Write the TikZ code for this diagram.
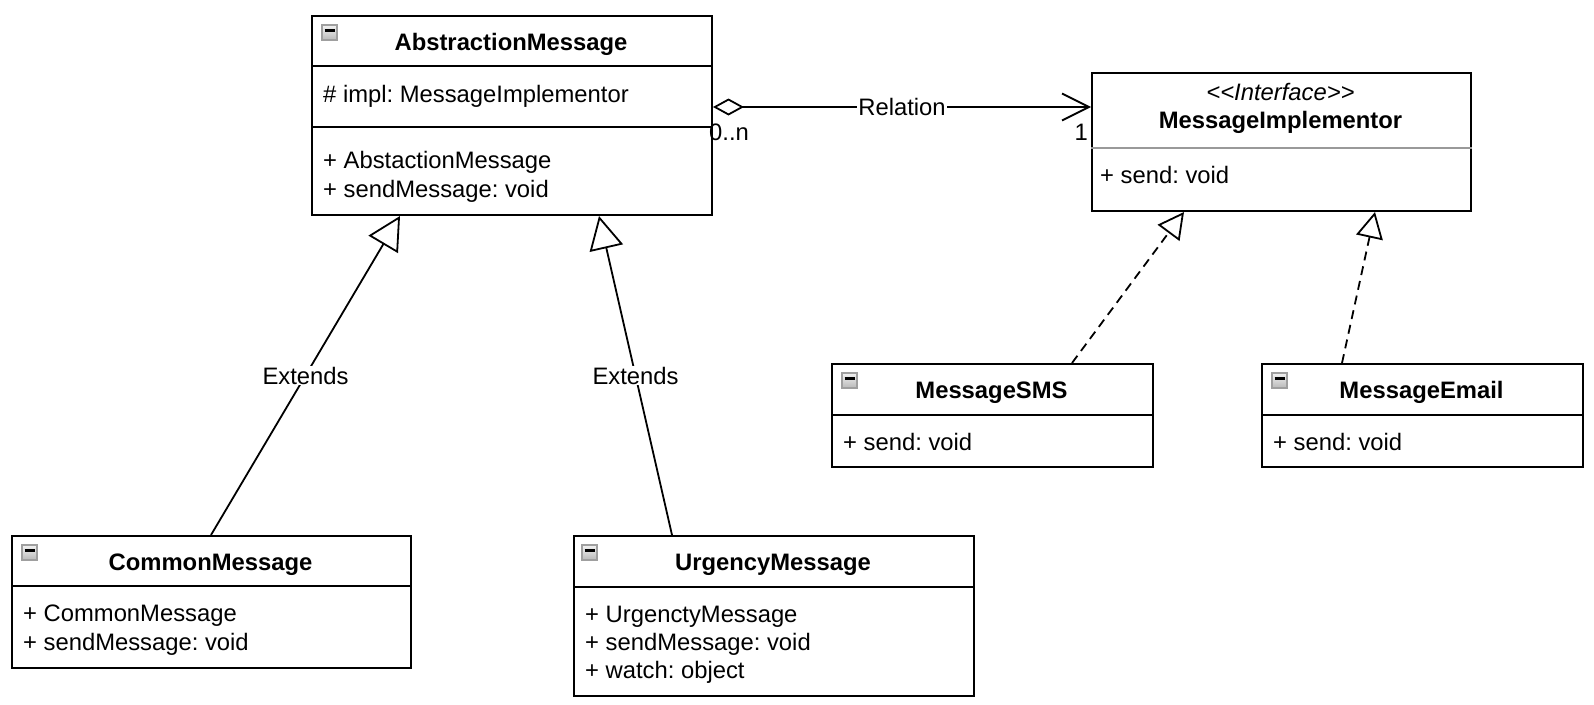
\documentclass[tikz,border=0pt]{standalone}
\usepackage{fontspec}
\setmainfont{Liberation Sans}
\usetikzlibrary{arrows.meta}
\frenchspacing
\begin{document}
\begin{tikzpicture}[x=1pt,y=-1pt,
  every node/.style={font=\fontsize{23.8}{28}\selectfont, inner sep=0pt},
  cls/.style={draw, line width=2pt, anchor=north west, inner sep=0pt},
  ttl/.style={anchor=base, font=\bfseries\fontsize{23.8}{28}\selectfont},
  itm/.style={anchor=base west},
  divl/.style={line width=2pt},
  icon/.style={draw=gray!75, line width=1.3pt, top color=gray!10, bottom color=gray!55, minimum size=15pt,
    path picture={\draw[line width=2.4pt, black] ([xshift=2.5pt,yshift=2pt]path picture bounding box.west) -- ([xshift=-2.5pt,yshift=2pt]path picture bounding box.east);}},
  conn/.style={line width=1.8pt},
  ext/.style={conn, -{Triangle[open, length=33pt, width=34pt]}},
  realz/.style={conn, dash pattern=on 9pt off 6pt, -{Triangle[open, length=26pt, width=27pt]}},
  lbl/.style={fill=white, inner sep=1pt}
]
\useasboundingbox[fill=white] (0,0) rectangle (1594,704);

% AbstractionMessage
\node[cls, minimum width=400pt, minimum height=199pt] (am) at (311,15) {};
\draw[divl] ([yshift=-51pt]am.north west) -- ([yshift=-51pt]am.north east);
\draw[divl] ([yshift=-112pt]am.north west) -- ([yshift=-112pt]am.north east);
\node[icon] (amI) at (329.5,32.5) {};
\node[ttl] (amT) at (511,50) {AbstractionMessage};
\node[itm] (amA) at (323,102) {\# impl: MessageImplementor};
\node[itm] (amM1) at (323,168) {+ AbstactionMessage};
\node[itm] (amM2) at (323,197) {+ sendMessage: void};

% CommonMessage
\node[cls, minimum width=399pt, minimum height=132pt] (cm) at (11,535) {};
\draw[divl] ([yshift=-51pt]cm.north west) -- ([yshift=-51pt]cm.north east);
\node[icon] (cmI) at (29.5,552.5) {};
\node[ttl] (cmT) at (210.5,570) {CommonMessage};
\node[itm] (cmM1) at (23,621) {+ CommonMessage};
\node[itm] (cmM2) at (23,650) {+ sendMessage: void};

% UrgencyMessage
\node[cls, minimum width=400pt, minimum height=160pt] (um) at (573,535) {};
\draw[divl] ([yshift=-52pt]um.north west) -- ([yshift=-52pt]um.north east);
\node[icon] (umI) at (589.5,552.5) {};
\node[ttl] (umT) at (773,570) {UrgencyMessage};
\node[itm] (umM1) at (585,622) {+ UrgenctyMessage};
\node[itm] (umM2) at (585,650) {+ sendMessage: void};
\node[itm] (umM3) at (585,678) {+ watch: object};

% MessageImplementor
\node[cls, minimum width=379pt, minimum height=138pt] (mi) at (1091,72) {};
\draw[line width=2pt, gray!80] ([yshift=-76pt]mi.north west) -- ([yshift=-76pt]mi.north east);
\node[anchor=base, font=\itshape\fontsize{23.8}{28}\selectfont] (miS) at (1280.5,100) {<{}<Interface>{}>};
\node[ttl] (miT) at (1280.5,128) {MessageImplementor};
\node[itm] (miM) at (1100,183) {+ send: void};

% MessageSMS
\node[cls, minimum width=321pt, minimum height=103pt] (sms) at (831,363) {};
\draw[divl] ([yshift=-52pt]sms.north west) -- ([yshift=-52pt]sms.north east);
\node[icon] (smsI) at (849.5,380.5) {};
\node[ttl] (smsT) at (991.5,398) {MessageSMS};
\node[itm] (smsM) at (843,450) {+ send: void};

% MessageEmail
\node[cls, minimum width=321pt, minimum height=103pt] (em) at (1261,363) {};
\draw[divl] ([yshift=-52pt]em.north west) -- ([yshift=-52pt]em.north east);
\node[icon] (emI) at (1279.5,380.5) {};
\node[ttl] (emT) at (1421.5,398) {MessageEmail};
\node[itm] (emM) at (1273,450) {+ send: void};

% connectors
\draw[conn, {Diamond[open,length=31pt,width=17pt]}-{Straight Barb[length=27pt,width=27pt]}]
  ([yshift=-92pt]am.north east) -- node[lbl] (relL) {Relation} ([yshift=-35pt]mi.north west);
\node[anchor=base west] (mult0) at (709,140) {0..n};
\node[anchor=base east] (mult1) at (1088,140) {1};

\draw[ext] ([xshift=200pt]cm.north west) -- node[lbl] (ext1) {Extends} ([xshift=89pt]am.south west);
\draw[ext] ([xshift=99pt]um.north west) -- node[lbl] (ext2) {Extends} ([xshift=288pt]am.south west);
\draw[realz] ([xshift=241pt]sms.north west) -- ([xshift=93pt]mi.south west);
\draw[realz] ([xshift=81pt]em.north west) -- ([xshift=284pt]mi.south west);
\end{tikzpicture}
\end{document}
